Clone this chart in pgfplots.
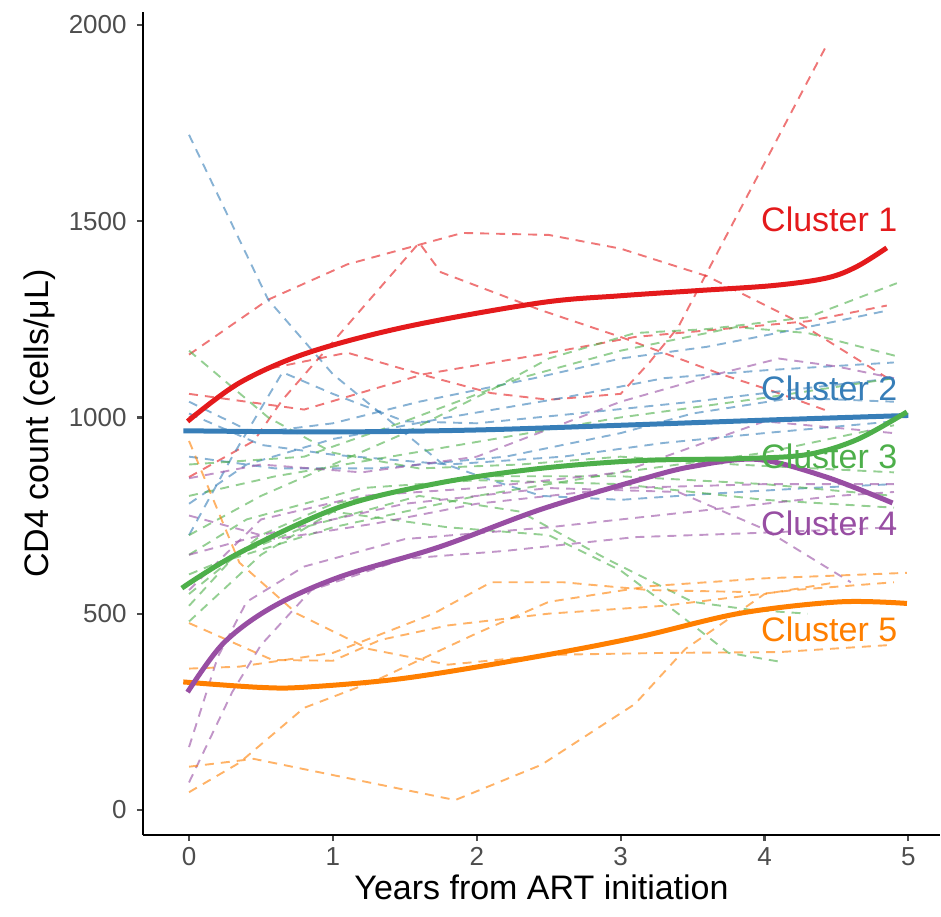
\documentclass[border=0pt]{standalone}
\usepackage{pgfplots}
\pgfplotsset{compat=1.18}
\usepackage{fontspec}
\setmainfont{Liberation Sans}
\definecolor{c1}{HTML}{E41A1C}
\definecolor{c2}{HTML}{377EB8}
\definecolor{c3}{HTML}{4DAF4A}
\definecolor{c4}{HTML}{984EA3}
\definecolor{c5}{HTML}{FF7F00}
\definecolor{g30}{HTML}{4D4D4D}
\begin{document}
\begin{tikzpicture}
\useasboundingbox (-71.5pt,-40.5pt) rectangle (399pt,417.5pt);
\begin{axis}[
  at={(0,0)}, anchor=south west,
  scale only axis, width=398.5pt, height=411.5pt,
  xmin=-0.32, xmax=5.22, ymin=-64, ymax=2033,
  axis x line*=bottom, axis y line*=left,
  axis line style={line width=1.4pt, black},
  xtick={0,1,2,3,4,5}, ytick={0,500,1000,1500,2000},
  tick align=outside, major tick length=3pt,
  tick style={line width=1.1pt, color=g30},
  /pgf/number format/assume math mode=true,
  /pgf/number format/1000 sep={},
  ticklabel style={font=\fontsize{13}{13}\selectfont, text=g30},
  xticklabel style={anchor=north, inner sep=0pt, yshift=-3pt},
  yticklabel style={anchor=east, inner sep=0pt, xshift=-5pt},
  xlabel={Years from ART initiation},
  ylabel={CD4 count (cells/μL)},
  every axis x label/.style={at={(axis description cs:0.5,0)}, yshift=-26pt, anchor=center, font=\fontsize{17}{17}\selectfont},
  every axis y label/.style={at={(axis description cs:0,0.5)}, xshift=-51.5pt, rotate=90, anchor=center, font=\fontsize{17}{17}\selectfont},
  clip=false,
  dsh/.style={dash pattern=on 4.5pt off 3.5pt, line width=0.95pt, opacity=0.6},
  mainl/.style={line width=2.5pt, smooth, tension=0.55},
]
% ---- Cluster 1 individual
\addplot[dsh, c1] coordinates {(0,1160) (0.55,1300) (1.1,1390) (1.6,1440) (1.9,1470) (2.5,1465) (3.0,1430) (3.6,1360) (4.2,1250) (4.9,1090)};
\addplot[dsh, c1] coordinates {(0,848) (0.45,940) (0.65,1045) (1.6,1445) (1.75,1370) (2.44,1274) (3.0,1205) (3.7,1110) (4.05,1068) (4.45,1015)};
\addplot[dsh, c1] coordinates {(0,1000) (0.5,1120) (1.1,1165) (1.63,1108) (2.1,1062) (2.5,1045) (3.0,1060) (3.2,1140) (3.4,1230) (4.42,1940)};
\addplot[dsh, c1] coordinates {(0,1060) (0.8,1020) (1.63,1110) (2.44,1160) (3.1,1205) (3.7,1225) (4.3,1245) (4.85,1285)};
% ---- Cluster 2 individual
\addplot[dsh, c2] coordinates {(0,1720) (0.55,1300) (1.0,1110) (1.4,990) (1.75,885) (2.1,840) (2.45,800) (3.0,790) (3.6,805) (4.3,820) (4.9,830)};
\addplot[dsh, c2] coordinates {(0,1040) (0.45,960) (1.0,985) (1.6,1040) (2.4,1100) (3.0,1150) (3.6,1180) (3.95,1205) (4.5,1245) (4.85,1272)};
\addplot[dsh, c2] coordinates {(0,700) (0.3,900) (0.65,1115) (1.0,1060) (1.5,990) (2.0,985) (2.7,1010) (3.5,1040) (4.3,1075) (4.9,1100)};
\addplot[dsh, c2] coordinates {(0,1010) (0.5,930) (1.0,905) (1.8,880) (2.6,900) (3.3,935) (4.0,960) (4.9,990)};
\addplot[dsh, c2] coordinates {(0,780) (0.4,880) (1.0,945) (1.8,1000) (2.6,1050) (3.3,1100) (4.0,1120) (4.9,1140)};
\addplot[dsh, c2] coordinates {(0,900) (0.6,870) (1.3,870) (2.2,900) (3.0,960) (3.5,1010) (4.2,1050) (4.9,1040)};
% ---- Cluster 3 individual
\addplot[dsh, c3] coordinates {(0,1170) (0.55,1000) (1.0,910) (1.6,870) (2.3,880) (3.0,900) (3.8,880) (4.9,860)};
\addplot[dsh, c3] coordinates {(0,700) (0.5,800) (1.0,880) (1.5,960) (2.1,1070) (2.5,1150) (3.1,1215) (3.6,1225) (4.3,1255) (4.92,1342)};
\addplot[dsh, c3] coordinates {(0,880) (0.8,900) (1.5,990) (2.3,1100) (3.0,1170) (3.8,1230) (4.3,1215) (4.94,1154)};
\addplot[dsh, c3] coordinates {(0,480) (0.5,650) (1.0,760) (1.8,720) (2.5,700) (3.0,610) (3.4,500) (3.75,400) (4.1,378)};
\addplot[dsh, c3] coordinates {(0,600) (0.8,720) (1.6,800) (2.3,760) (2.9,640) (3.5,530) (3.9,510) (4.3,500)};
\addplot[dsh, c3] coordinates {(0,550) (0.5,700) (1.0,780) (2.0,850) (3.0,850) (4.0,830) (4.9,800)};
\addplot[dsh, c3] coordinates {(0,650) (0.4,740) (1.2,820) (2.0,840) (3.0,830) (4.0,790) (4.9,770)};
\addplot[dsh, c3] coordinates {(0,520) (0.3,640) (1.0,720) (2.0,800) (3.0,860) (4.0,910) (4.9,980)};
\addplot[dsh, c3] coordinates {(0,800) (0.6,850) (1.4,900) (2.2,950) (3.0,1000) (4.0,1050) (4.9,1100)};
% ---- Cluster 4 individual
\addplot[dsh, c4] coordinates {(0,160) (0.2,390) (0.4,530) (0.8,620) (1.5,690) (2.5,720) (3.5,760) (4.5,800) (4.9,810)};
\addplot[dsh, c4] coordinates {(0,70) (0.3,300) (0.5,420) (0.85,560) (1.5,640) (2.2,660) (3.1,695) (3.9,705) (4.9,720)};
\addplot[dsh, c4] coordinates {(0,845) (0.5,880) (1.2,860) (2.0,900) (3.0,1040) (3.7,1113) (4.1,1150) (4.5,1130) (4.9,1100)};
\addplot[dsh, c4] coordinates {(0,650) (0.5,700) (1.5,780) (2.5,820) (3.4,810) (4.0,715) (4.6,580)};
\addplot[dsh, c4] coordinates {(0,560) (0.5,740) (1.2,800) (2.0,820) (3.0,860) (4.0,990) (4.9,960)};
\addplot[dsh, c4] coordinates {(0,750) (0.6,690) (1.3,730) (2.0,780) (3.0,820) (4.0,830) (4.9,830)};
% ---- Cluster 5 individual
\addplot[dsh, c5] coordinates {(0,45) (0.35,120) (0.8,260) (1.3,330) (2.0,450) (2.5,530) (3.2,570) (4.0,590) (4.99,604)};
\addplot[dsh, c5] coordinates {(0,110) (0.45,130) (1.05,85) (1.85,25) (2.45,115) (3.1,270) (3.45,410) (4.0,550) (4.5,580)};
\addplot[dsh, c5] coordinates {(0,940) (0.35,630) (0.75,500) (1.25,410) (1.8,370) (2.5,395) (3.3,400) (4.1,402) (4.87,420)};
\addplot[dsh, c5] coordinates {(0,360) (0.35,365) (1.0,400) (1.7,500) (2.1,580) (2.6,580) (3.2,560) (3.9,555)};
\addplot[dsh, c5] coordinates {(0,476) (0.58,382) (1.0,380) (1.33,433) (1.8,470) (2.5,500) (3.3,520) (4.2,560) (4.9,580)};
% ---- Cluster means
\addplot[mainl, c2] coordinates {(-0.04,966) (1,963) (2,968) (3,980) (4,993) (5.0,1005)};
\addplot[mainl, c5] coordinates {(-0.04,326) (0.5,312) (0.82,313) (1.51,336) (2.44,392) (3.13,441) (3.83,501) (4.52,530) (4.99,526)};
\addplot[mainl, c4] coordinates {(-0.01,300) (0.24,425) (0.58,517) (1.05,594) (1.74,670) (2.44,765) (3.13,841) (3.5,875) (3.95,893) (4.43,848) (4.89,782)};
\addplot[mainl, c3] coordinates {(-0.05,565) (0.35,655) (1.05,772) (1.74,833) (2.44,870) (3.13,890) (3.83,895) (4.29,905) (4.64,943) (4.99,1014)};
\addplot[mainl, c1] coordinates {(-0.01,990) (0.35,1088) (0.82,1164) (1.51,1231) (2.44,1292) (3.0,1310) (3.53,1323) (4.06,1336) (4.43,1355) (4.64,1384) (4.85,1432)};
% ---- Labels
\node[c1, font=\fontsize{17}{17}\selectfont, inner sep=0pt] at (axis cs:4.45,1505) {Cluster 1};
\node[c2, font=\fontsize{17}{17}\selectfont, inner sep=0pt] at (axis cs:4.45,1075) {Cluster 2};
\node[c3, font=\fontsize{17}{17}\selectfont, inner sep=0pt] at (axis cs:4.45,900) {Cluster 3};
\node[c4, font=\fontsize{17}{17}\selectfont, inner sep=0pt] at (axis cs:4.45,731) {Cluster 4};
\node[c5, font=\fontsize{17}{17}\selectfont, inner sep=0pt] at (axis cs:4.45,459) {Cluster 5};
\end{axis}
\end{tikzpicture}
\end{document}
